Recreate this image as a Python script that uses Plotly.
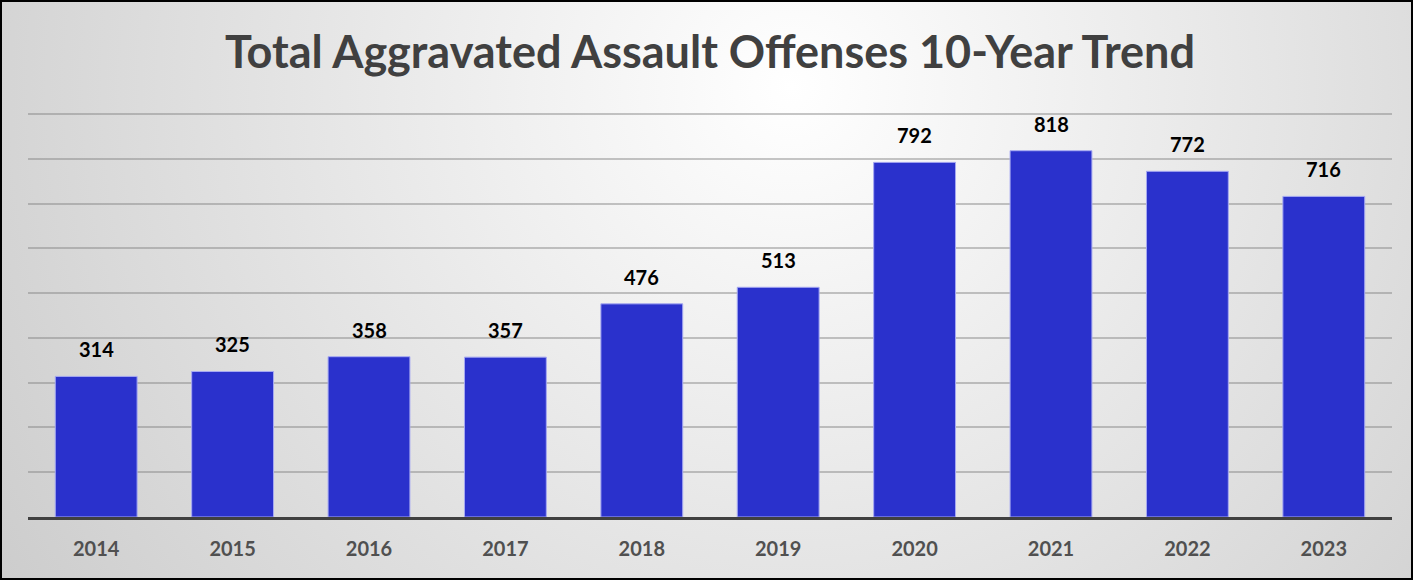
import plotly.graph_objects as go

years = ["2014", "2015", "2016", "2017", "2018", "2019", "2020", "2021", "2022", "2023"]
offenses = [314, 325, 358, 357, 476, 513, 792, 818, 772, 716]
title_text = "Total Aggravated Assault Offenses 10-Year Trend"

W, H = 1413, 580
ML, MR, MT, MB = 28, 21, 110, 63
PW, PH = W - ML - MR, H - MT - MB
FONT = "Lato, Open Sans, sans-serif"
Y_TOP = PH * 900 / 403

fig = go.Figure()
fig.add_trace(go.Bar(
    x=years, y=offenses,
    marker=dict(color="#2A31CC", line=dict(color="#A6A9F2", width=1)),
    width=0.6, hoverinfo="x+y",
))

for i, v in enumerate(offenses):
    fig.add_annotation(x=i, y=v, text=f"<b>{v}</b>", showarrow=False,
                       yanchor="bottom", yshift=13,
                       font=dict(family=FONT, size=20, color="#000000"))

svg = ("<svg xmlns='http://www.w3.org/2000/svg' width='1413' height='580'>"
       "<defs><radialGradient id='g' cx='0.56' cy='0.15' r='0.75' gradientUnits='objectBoundingBox' "
       "gradientTransform='translate(0.56 0.15) scale(1 2.4) translate(-0.56 -0.15)'>"
       "<stop offset='0' stop-color='%23ffffff'/><stop offset='1' stop-color='%23c6c6c6'/>"
       "</radialGradient></defs><rect width='1413' height='580' fill='url(%23g)'/></svg>")
src = "data:image/svg+xml;charset=utf-8," + svg

fig.add_layout_image(dict(
    source=src, xref="paper", yref="paper",
    x=-ML / PW, y=1 + MT / PH, sizex=W / PW, sizey=H / PH,
    xanchor="left", yanchor="top", sizing="stretch", layer="below",
))

fig.add_shape(type="rect", xref="paper", yref="paper",
              x0=-ML / PW + 1 / PW, x1=1 + MR / PW - 1 / PW,
              y0=-MB / PH + 1 / PH, y1=1 + MT / PH - 1 / PH,
              line=dict(color="#000000", width=2), fillcolor="rgba(0,0,0,0)")

fig.update_layout(
    width=W, height=H,
    margin=dict(l=ML, r=MR, t=MT, b=MB, pad=0),
    paper_bgcolor="rgba(0,0,0,0)", plot_bgcolor="rgba(0,0,0,0)",
    title=dict(text=f"<b>{title_text}</b>", x=0.5, xref="paper", xanchor="center",
               y=1 - 52 / H, yanchor="middle",
               font=dict(family=FONT, size=45, color="#404040")),
    showlegend=False,
    xaxis=dict(type="category", categoryorder="array", categoryarray=years,
               range=[-0.5, len(years) - 0.5],
               showgrid=False, showline=True, linecolor="#404040", linewidth=3,
               tickfont=dict(family=FONT, size=20, color="#505050"),
               ticks="", ticklabelstandoff=12, tickprefix="<b>", ticksuffix="</b>"),
    yaxis=dict(range=[0, Y_TOP], tick0=0, dtick=100, showticklabels=False, showgrid=True,
               gridcolor="rgba(128,128,128,0.45)", gridwidth=2, zeroline=False, ticks=""),
)

fig.write_html("out.html", config={"displayModeBar": False},
               post_script="document.body.style.margin='0';")
